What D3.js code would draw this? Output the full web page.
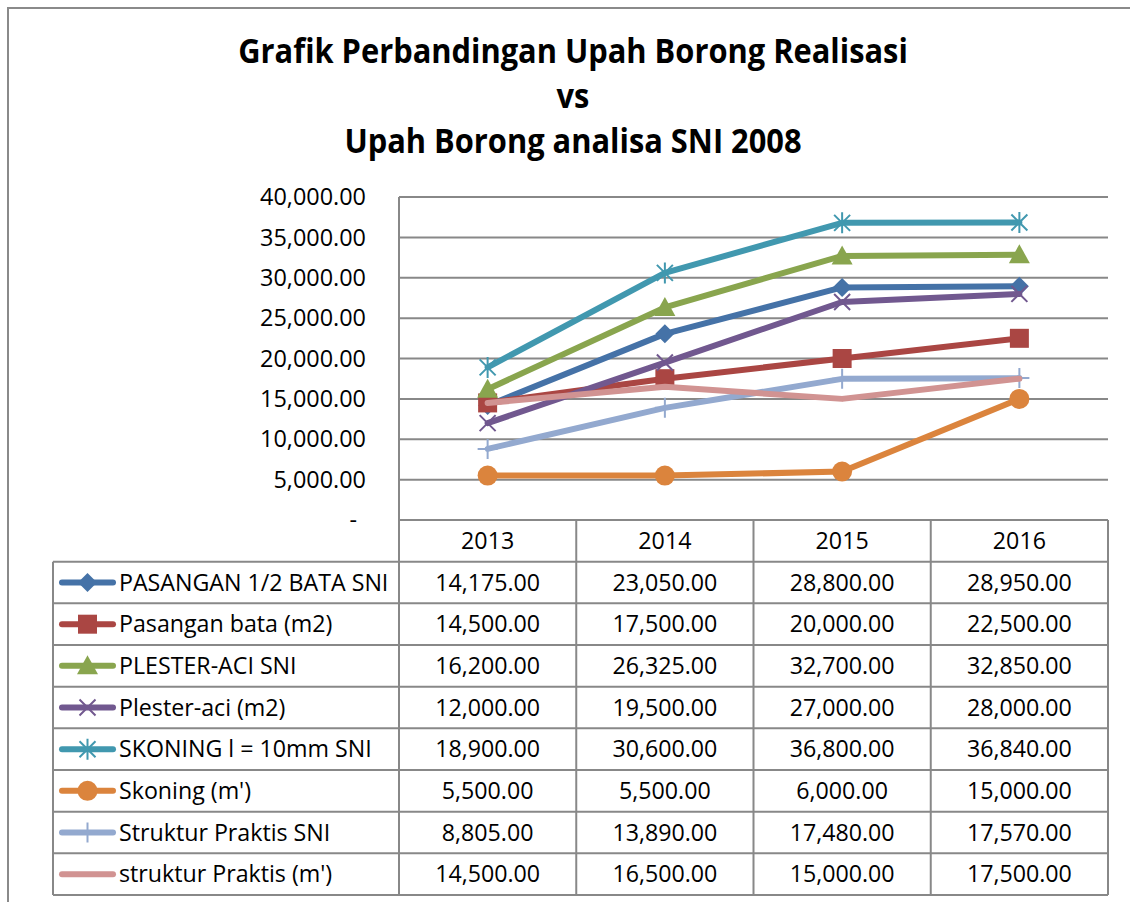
<!DOCTYPE html>
<html>
<head>
<meta charset="utf-8">
<script src="https://cdn.jsdelivr.net/npm/d3@7"></script>
<style>
  body { margin: 0; background: #fff; }
  svg { display: block; }
  text { font-family: "Open Sans", sans-serif; fill: #000; }
</style>
</head>
<body>
<div id="chart"></div>
<script>
/**
 * DATA
 * */
const years = ["2013", "2014", "2015", "2016"];
const seriesNames = [
  "PASANGAN 1/2 BATA SNI",
  "Pasangan bata (m2)",
  "PLESTER-ACI SNI",
  "Plester-aci (m2)",
  "SKONING l = 10mm SNI",
  "Skoning (m')",
  "Struktur Praktis SNI",
  "struktur Praktis (m')"
];
const pasanganSetengahBataSNI = [14175, 23050, 28800, 28950];
const pasanganBata = [14500, 17500, 20000, 22500];
const plesterAciSNI = [16200, 26325, 32700, 32850];
const plesterAci = [12000, 19500, 27000, 28000];
const skoningSNI = [18900, 30600, 36800, 36840];
const skoning = [5500, 5500, 6000, 15000];
const strukturPraktisSNI = [8805, 13890, 17480, 17570];
const strukturPraktis = [14500, 16500, 15000, 17500];
const yTicks = [0, 5000, 10000, 15000, 20000, 25000, 30000, 35000, 40000];
const titleLines = [
  "Grafik Perbandingan Upah Borong Realisasi",
  "vs",
  "Upah Borong analisa SNI 2008"
];

/**
 * CONSTANTS AND GLOBALS
 * */
const width = 1130,
  height = 902,
  plot = { left: 399, right: 1108, top: 197, bottom: 520 },
  table = { left: 53, bottom: 895 };

const colors = ["#4572A7", "#AA4643", "#89A54E", "#71588F", "#4198AF", "#DB843D", "#93A9CF", "#D19392"];
const markers = ["diamond", "square", "triangle", "x", "star", "circle", "plus", "none"];
const gridColor = "#888888";

const seriesValues = [pasanganSetengahBataSNI, pasanganBata, plesterAciSNI, plesterAci,
  skoningSNI, skoning, strukturPraktisSNI, strukturPraktis];
const series = seriesNames.map((name, i) => ({
  name, values: seriesValues[i], color: colors[i], marker: markers[i]
}));

const fmt = v => v === 0 ? "-" : d3.format(",.2f")(v);

const svg = d3.select("#chart")
  .append("svg")
  .attr("width", width)
  .attr("height", height);

// scales
const x = d3.scaleBand().domain(years).range([plot.left, plot.right]);
const y = d3.scaleLinear().domain([0, 40000]).range([plot.bottom, plot.top]);
const rowY = d3.scaleBand().domain(seriesNames).range([x.bandwidth() ? 561.7 : 561.7, table.bottom]);

// measure a string to get a horizontal stretch factor (reference uses Calibri)
function measure(str, size, weight) {
  const t = svg.append("text").style("font-size", size + "px").style("font-weight", weight).text(str);
  const w = t.node().getComputedTextLength();
  t.remove();
  return w;
}
const tickSize = 23, cellSize = 23, titleSize = 34;
const kTick = 106 / measure("40,000.00", tickSize, 400);
const kCell = 105 / measure("28,950.00", cellSize, 400);
const kTitle = 670 / measure(titleLines[0], titleSize, 700);

function label(parent, str, px, py, size, k, anchor, weight) {
  return parent.append("text")
    .attr("transform", `translate(${px},${py}) scale(${k},1)`)
    .attr("text-anchor", anchor)
    .style("font-size", size + "px")
    .style("font-weight", weight || 400)
    .text(str);
}

// outer chart border (top and left visible)
svg.append("path")
  .attr("d", `M8,${height} L8,8 L${width},8`)
  .attr("fill", "none")
  .attr("stroke", "#8a8a8a")
  .attr("stroke-width", 2);

// title
titleLines.forEach((t, i) => {
  label(svg, t, 573, 63 + i * 45, titleSize, kTitle, "middle", 700);
});

// gridlines + y labels
svg.selectAll("line.grid")
  .data(yTicks)
  .join("line")
  .attr("class", "grid")
  .attr("x1", plot.left).attr("x2", plot.right)
  .attr("y1", d => y(d)).attr("y2", d => y(d))
  .attr("stroke", gridColor)
  .attr("stroke-width", 2);

yTicks.forEach(d => {
  label(svg, fmt(d), d === 0 ? 357 : 366, y(d) + 0.357 * tickSize, tickSize, kTick, "end");
});

// data table lines
const tableG = svg.append("g");
const colEdges = years.map(d => x(d)).concat([plot.right]);
colEdges.forEach(cx => {
  tableG.append("line")
    .attr("x1", cx).attr("x2", cx)
    .attr("y1", cx === plot.left ? plot.top : plot.bottom).attr("y2", table.bottom)
    .attr("stroke", gridColor).attr("stroke-width", 2);
});
const rowEdges = seriesNames.map(d => rowY(d)).concat([table.bottom]);
rowEdges.forEach(ry => {
  tableG.append("line")
    .attr("x1", table.left).attr("x2", plot.right)
    .attr("y1", ry).attr("y2", ry)
    .attr("stroke", gridColor).attr("stroke-width", 2);
});
tableG.append("line")
  .attr("x1", table.left).attr("x2", table.left)
  .attr("y1", rowY(seriesNames[0])).attr("y2", table.bottom)
  .attr("stroke", gridColor).attr("stroke-width", 2);

// header years
years.forEach(yr => {
  label(tableG, yr, x(yr) + x.bandwidth() / 2, (plot.bottom + rowY(seriesNames[0])) / 2 + 0.357 * cellSize, cellSize, kCell, "middle");
});

// marker shapes
function markerPath(type) {
  switch (type) {
    case "diamond": return "M0,-9.5L9.5,0L0,9.5L-9.5,0Z";
    case "square": return "M-9.5,-9.5H9.5V9.5H-9.5Z";
    case "triangle": return "M0,-10.5L10.5,8.5L-10.5,8.5Z";
    case "circle": return "M10,0A10,10 0 1,1 -10,0A10,10 0 1,1 10,0Z";
    case "x": return "M-8,-8L8,8M-8,8L8,-8";
    case "star": return "M-8,-8L8,8M-8,8L8,-8M0,-10.5L0,10.5";
    case "plus": return "M0,-10L0,10M-10,0L10,0";
    default: return "";
  }
}
const filled = t => ["diamond", "square", "triangle", "circle"].includes(t);

function drawMarker(g, s, mx, my) {
  if (s.marker === "none") return;
  g.append("path")
    .attr("transform", `translate(${mx},${my})`)
    .attr("d", markerPath(s.marker))
    .attr("fill", filled(s.marker) ? s.color : "none")
    .attr("stroke", s.color)
    .attr("stroke-width", filled(s.marker) ? 0 : 2);
}

// table rows: legend key, name, values
series.forEach(s => {
  const cy = rowY(s.name) + rowY.bandwidth() / 2;
  tableG.append("line")
    .attr("x1", 62).attr("x2", 113)
    .attr("y1", cy).attr("y2", cy)
    .attr("stroke", s.color).attr("stroke-width", 6)
    .attr("stroke-linecap", "round");
  drawMarker(tableG, s, 87.5, cy);
  label(tableG, s.name, 119, cy + 0.357 * cellSize, cellSize, kCell, "start");
  s.values.forEach((v, i) => {
    label(tableG, fmt(v), x(years[i]) + x.bandwidth() / 2, cy + 0.357 * cellSize, cellSize, kCell, "middle");
  });
});

// series lines
const line = d3.line()
  .x((d, i) => x(years[i]) + x.bandwidth() / 2)
  .y(d => y(d));

series.forEach(s => {
  const g = svg.append("g");
  g.append("path")
    .attr("d", line(s.values))
    .attr("fill", "none")
    .attr("stroke", s.color)
    .attr("stroke-width", 6)
    .attr("stroke-linejoin", "round")
    .attr("stroke-linecap", "round");
  s.values.forEach((v, i) => drawMarker(g, s, x(years[i]) + x.bandwidth() / 2, y(v)));
});
</script>
</body>
</html>
